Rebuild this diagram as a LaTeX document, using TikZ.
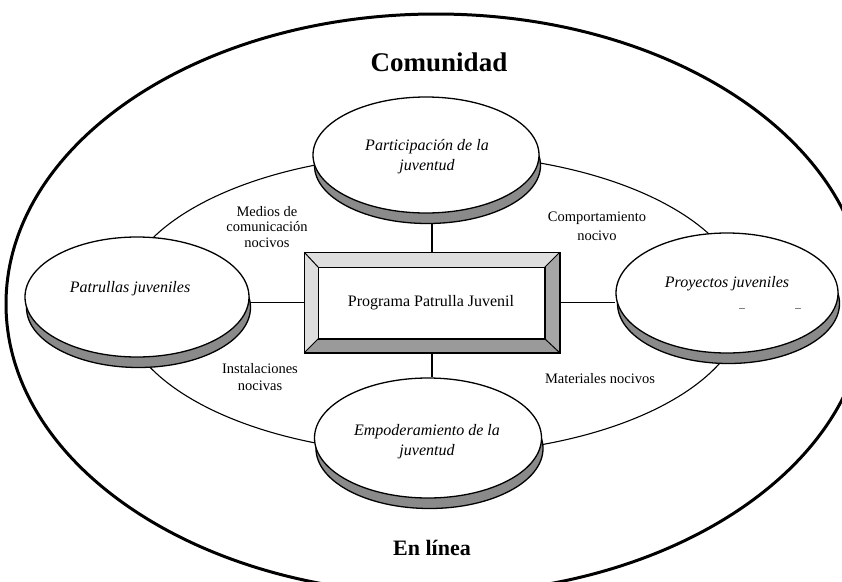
\documentclass[tikz,border=0pt]{standalone}
\usepackage{fontspec}
\setmainfont{Liberation Serif}
\usetikzlibrary{shapes.geometric,shadows,calc}
\pgfdeclarelayer{bg}
\pgfsetlayers{bg,main}
\definecolor{shadowgray}{RGB}{138,138,138}
\definecolor{bevlight}{RGB}{222,222,222}
\definecolor{bevdark}{RGB}{154,154,154}
\definecolor{bevmid}{RGB}{166,166,166}
\tikzset{
  disc/.style={ellipse, draw=black, line width=1.3pt, fill=white, inner sep=0pt,
    general shadow={fill=shadowgray, draw=black, line width=1.3pt, shadow xshift=1.5pt, shadow yshift=-10.5pt}},
  disctext/.style={align=center, inner sep=0pt, font=\fontsize{16}{20}\selectfont\itshape},
  lbl/.style={align=center, inner sep=0pt, font=\fontsize{14.5}{17}\selectfont},
  title/.style={inner sep=0pt, font=\fontsize{27}{30}\selectfont\bfseries},
  conn/.style={line width=1.2pt},
  ring/.style={line width=1.1pt}
}
\begin{document}
\begin{tikzpicture}[x=1pt,y=-1pt]
\useasboundingbox (0,0) rectangle (842,581);
\begin{pgfonlayer}{bg}
\fill[white] (0,0) rectangle (842,581);
\end{pgfonlayer}
\clip (0,0) rectangle (842,581);
% outer community ellipse
\draw[line width=3pt] (436,304) ellipse [x radius=430pt, y radius=290pt];
% titles
\node[title] (comun) at (439,62) {Comunidad};
\node[title, font=\fontsize{22}{25}\selectfont\bfseries] (linea) at (432,548) {En línea};
% four discs
\node[disc, minimum width=226pt, minimum height=116pt] (part) at (426,155) {};
\node[disc, minimum width=224pt, minimum height=120pt] (patr) at (137,297) {};
\node[disc, minimum width=222pt, minimum height=120pt] (proy) at (727,293) {};
\node[disc, minimum width=227pt, minimum height=120pt] (empo) at (428,438) {};
\node[disctext] (partT) at (427,157) {Participación de la\\juventud};
\node[disctext] (patrT) at (130,289) {Patrullas juveniles};
\node[disctext] (proyT) at (727,284) {Proyectos juveniles};
\node[disctext] (empoT) at (427,442) {Empoderamiento de la\\juventud};
% small marks
\draw[gray, line width=0.8pt] (739,308) -- (745,308) (795,308) -- (801,308);
% central bevelled box
\node[draw, line width=1.5pt, minimum width=254pt, minimum height=99pt, inner sep=0pt, fill=white] (prog) at (432,302.5) {};
\coordinate (iNW) at ($(prog.north west)+(14,15)$);
\coordinate (iNE) at ($(prog.north east)+(-15,15)$);
\coordinate (iSE) at ($(prog.south east)+(-15,-14)$);
\coordinate (iSW) at ($(prog.south west)+(14,-14)$);
\fill[bevlight] (prog.north west) -- (prog.north east) -- (iNE) -- (iNW) -- cycle;
\fill[bevlight] (prog.north west) -- (iNW) -- (iSW) -- (prog.south west) -- cycle;
\fill[bevdark] (prog.south west) -- (iSW) -- (iSE) -- (prog.south east) -- cycle;
\fill[bevmid] (prog.north east) -- (prog.south east) -- (iSE) -- (iNE) -- cycle;
\draw[line width=1pt] (prog.north west) -- (iNW) (prog.north east) -- (iNE)
  (prog.south east) -- (iSE) (prog.south west) -- (iSW);
\draw[line width=1.5pt] (iNW) rectangle (iSE);
\draw[line width=1.5pt] (prog.north west) rectangle (prog.south east);
\node[font=\fontsize{16}{19}\selectfont, inner sep=0pt] (progT) at (431,303) {Programa Patrulla Juvenil};
% labels
\node[lbl, font=\fontsize{14.5}{15.5}\selectfont] (medios) at (267,227) {Medios de\\comunicación\\nocivos};
\node[lbl, font=\fontsize{14.5}{19}\selectfont] (comport) at (597,226) {Comportamiento\\nocivo};
\node[lbl] (instal) at (260,377) {Instalaciones\\nocivas};
\node[lbl] (mater) at (600,379) {Materiales nocivos};
% ring and connectors behind
\begin{pgfonlayer}{bg}
\draw[ring] (433,304) ellipse [x radius=312pt, y radius=150pt];
\draw[conn] (prog.north) -- (prog.north |- part.south);
\draw[conn] (prog.south) -- (prog.south |- empo.north);
\draw[conn] (prog.west) -- (prog.west -| patr.east);
\draw[conn] (prog.east) -- (prog.east -| proy.west);
\end{pgfonlayer}
\end{tikzpicture}
\end{document}
